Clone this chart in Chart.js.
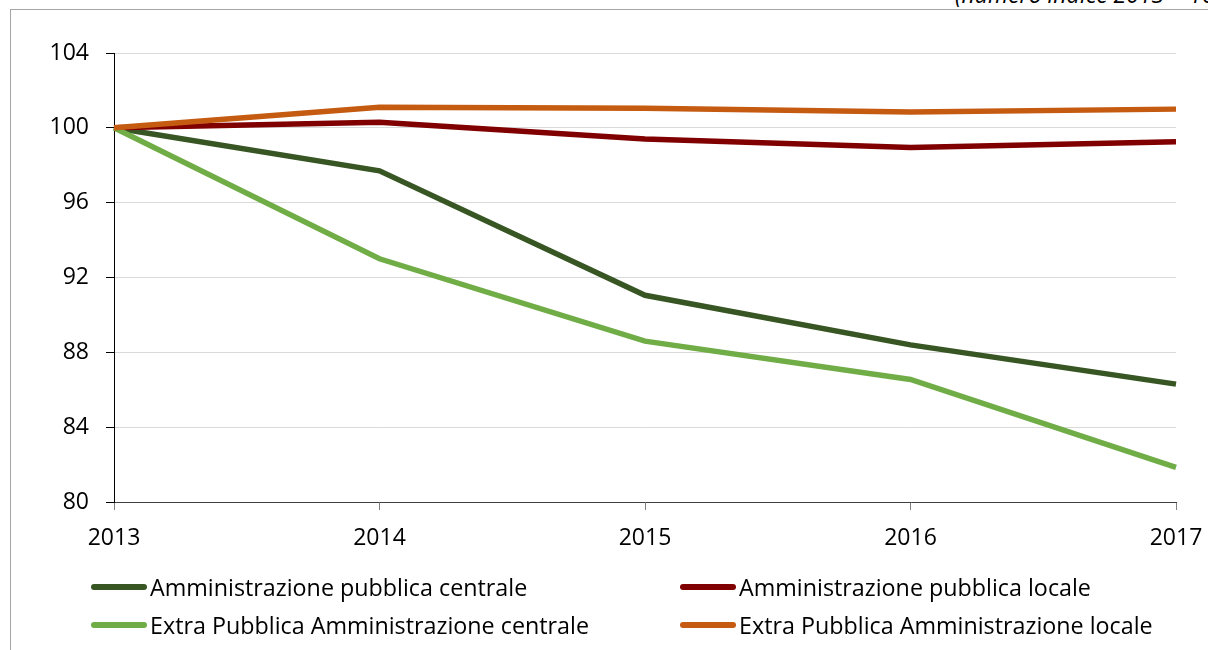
<!DOCTYPE html>
<html>
<head>
<meta charset="utf-8">
<script src="https://cdn.jsdelivr.net/npm/chart.js@4.4.0/dist/chart.umd.min.js"></script>
<style>
  html, body { margin: 0; padding: 0; background: #fff; }
  #wrap { position: relative; width: 1208px; height: 650px; overflow: hidden; font-family: "Open Sans", sans-serif; }
  #frame { position: absolute; left: 10px; top: 9px; right: -5px; bottom: -5px; border-top: 1px solid #a6a6a6; border-left: 1px solid #a6a6a6; }
  #subtitle { position: absolute; left: 955px; top: -22px; font-style: italic; font-size: 23px; white-space: nowrap; color: #000; }
  canvas { position: absolute; left: 0; top: 0; }
  .leg { position: absolute; font-size: 23.3px; color: #000; white-space: nowrap; line-height: 30px; }
  .leg span.ln { position: absolute; height: 6px; border-radius: 3px; top: 12px; }
</style>
</head>
<body>
<div id="wrap">
  <div id="frame"></div>
  <div id="subtitle">(numero indice 2013 = 100)</div>
  <canvas id="chart" width="1208" height="650"></canvas>
  <div id="legend"></div>
</div>
<script>
// dati
const anni = ['2013', '2014', '2015', '2016', '2017'];
const apCentrale = [100, 97.7, 91.05, 88.4, 86.3];
const apLocale = [100, 100.3, 99.4, 98.95, 99.25];
const extraCentrale = [100, 93.0, 88.6, 86.55, 81.85];
const extraLocale = [100, 101.1, 101.05, 100.85, 101.0];

const serie = [
    { nome: 'Amministrazione pubblica centrale', dati: apCentrale, colore: '#375623', ordine: 3 },
    { nome: 'Amministrazione pubblica locale', dati: apLocale, colore: '#800000', ordine: 2 },
    { nome: 'Extra Pubblica Amministrazione centrale', dati: extraCentrale, colore: '#70ad47', ordine: 1 },
    { nome: 'Extra Pubblica Amministrazione locale', dati: extraLocale, colore: '#c55a11', ordine: 0 }
];

const font = { family: '"Open Sans", sans-serif', size: 23 };

new Chart(document.getElementById('chart'), {
    type: 'line',
    data: {
        labels: anni,
        datasets: serie.map(s => ({
            label: s.nome,
            data: s.dati,
            borderColor: s.colore,
            backgroundColor: s.colore,
            borderWidth: 5.5,
            pointRadius: 0,
            tension: 0,
            fill: false,
            order: s.ordine
        }))
    },
    options: {
        responsive: false,
        animation: false,
        layout: { padding: { top: 53, right: 32, left: 0, bottom: 0 } },
        plugins: { legend: { display: false }, tooltip: { enabled: false } },
        scales: {
            x: {
                afterFit: s => { s.height = 148; s.paddingLeft = 0; s.paddingRight = 0; },
                grid: { drawOnChartArea: false, drawTicks: true, tickLength: 8, tickColor: '#808080' },
                border: { color: '#404040', width: 1 },
                ticks: { color: '#000', font: font, padding: 15, maxRotation: 0 }
            },
            y: {
                min: 80,
                max: 104,
                afterFit: s => { s.width = 114; s.paddingTop = 0; s.paddingBottom = 0; },
                grid: { color: '#d9d9d9', tickColor: '#000', tickLength: 8 },
                border: { color: '#000', width: 1 },
                ticks: { stepSize: 4, color: '#000', font: font, padding: 17 }
            }
        }
    }
});

// legenda su due colonne
const posizioni = [
    { x: 91, y: 572 }, { x: 680, y: 572 },
    { x: 91, y: 610 }, { x: 680, y: 610 }
];
const legenda = document.getElementById('legend');
serie.forEach((s, i) => {
    const p = posizioni[i];
    const el = document.createElement('div');
    el.className = 'leg';
    el.style.left = p.x + 'px';
    el.style.top = p.y + 'px';
    el.style.paddingLeft = '59px';
    el.innerHTML = `<span class="ln" style="left:0;width:56px;background:${s.colore}"></span>${s.nome}`;
    legenda.appendChild(el);
});
</script>
</body>
</html>
